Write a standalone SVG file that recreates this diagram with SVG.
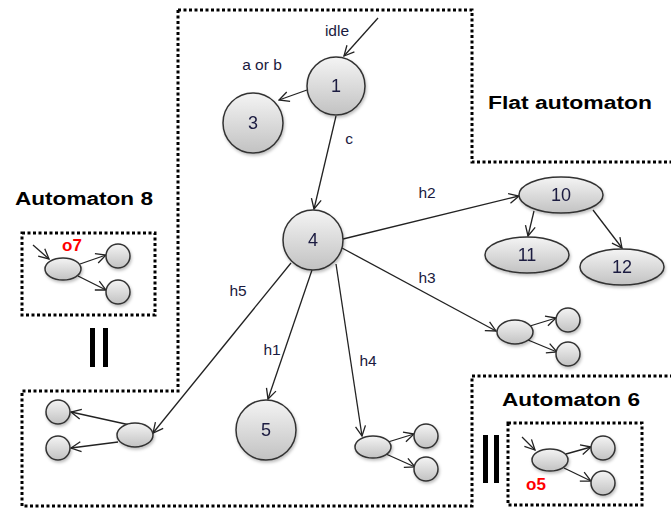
<svg xmlns="http://www.w3.org/2000/svg" width="671" height="512" viewBox="0 0 671 512">
<style>
.node{fill:url(#g);stroke:#333;stroke-width:1.5}
.lbl{font-family:"Liberation Sans",Arial,sans-serif;font-size:15.5px;fill:#1a1a40;text-anchor:middle;dominant-baseline:central}
.nl{font-family:"Liberation Sans",Arial,sans-serif;font-size:18px;fill:#1a1a40;text-anchor:middle;dominant-baseline:central}
.ttl{font-family:"Liberation Sans",Arial,sans-serif;font-size:18px;font-weight:bold;fill:#000;dominant-baseline:central}
.red{font-family:"Liberation Sans",Arial,sans-serif;font-size:17px;font-weight:bold;fill:#f00;text-anchor:middle;dominant-baseline:central}
.dot{fill:none;stroke:#000;stroke-width:3;stroke-dasharray:3 2.5}
.e{fill:none;stroke:#222;stroke-width:1.3;marker-end:url(#a)}
.bar{fill:#000}
</style>
<defs>
<linearGradient id="g" x1="0" y1="0" x2="0" y2="1">
<stop offset="0" stop-color="#f4f4f4"/>
<stop offset="1" stop-color="#c2c2c2"/>
</linearGradient>
<filter id="sh" x="-30%" y="-30%" width="160%" height="160%">
<feDropShadow dx="1" dy="2" stdDeviation="1.5" flood-color="#000" flood-opacity="0.25"/>
</filter>
<marker id="a" viewBox="0 0 12 12" refX="11" refY="6" markerWidth="12" markerHeight="12" markerUnits="userSpaceOnUse" orient="auto">
<path d="M1,1 L11,6 L1,11" fill="none" stroke="#222" stroke-width="1.3"/>
</marker>
</defs>
<rect width="671" height="512" fill="#fff"/>

<g id="boundaries">
<path class="dot" d="M178,10 H472 V162 H671"/>
<path class="dot" d="M178,10 V391 H22 V506 H472 V376 H671"/>
<rect class="dot" x="22" y="233" width="133" height="82"/>
<rect class="dot" x="508" y="423" width="134" height="82"/>
<rect class="bar" x="90" y="328" width="5" height="39"/>
<rect class="bar" x="103" y="328" width="5" height="39"/>
<rect class="bar" x="483" y="435" width="5" height="48"/>
<rect class="bar" x="494" y="435" width="5" height="48"/>
</g>

<g id="titles">
<text class="ttl" x="488" y="103" textLength="164" lengthAdjust="spacingAndGlyphs">Flat automaton</text>
<text class="ttl" x="15" y="199" textLength="138" lengthAdjust="spacingAndGlyphs">Automaton 8</text>
<text class="ttl" x="502" y="400" textLength="138" lengthAdjust="spacingAndGlyphs">Automaton 6</text>
</g>

<g id="connectors">
<line class="e" x1="378" y1="18" x2="344" y2="56"/>
<line class="e" x1="307" y1="90" x2="279" y2="100"/>
<line class="e" x1="336" y1="116" x2="314" y2="209"/>
<line class="e" x1="343" y1="239" x2="519" y2="196"/>
<line class="e" x1="534" y1="211" x2="528" y2="236"/>
<line class="e" x1="593" y1="210" x2="622" y2="248"/>
<line class="e" x1="342" y1="248" x2="496" y2="331"/>
<line class="e" x1="312" y1="270" x2="268" y2="399"/>
<line class="e" x1="336" y1="264" x2="362" y2="436"/>
<line class="e" x1="291" y1="263" x2="153" y2="433"/>
<line class="e" x1="130" y1="425" x2="71" y2="412"/>
<line class="e" x1="118" y1="442" x2="71" y2="448"/>
<line class="e" x1="530" y1="326" x2="556" y2="318"/>
<line class="e" x1="528" y1="340" x2="557" y2="352"/>
<line class="e" x1="388" y1="442" x2="414" y2="434"/>
<line class="e" x1="386" y1="454" x2="415" y2="467"/>
<line class="e" x1="33" y1="245" x2="49" y2="259"/>
<line class="e" x1="80" y1="264" x2="106" y2="255"/>
<line class="e" x1="78" y1="276" x2="106" y2="290"/>
<line class="e" x1="522" y1="437" x2="535" y2="450"/>
<line class="e" x1="566" y1="454" x2="591" y2="447"/>
<line class="e" x1="564" y1="468" x2="591" y2="481"/>
<text class="lbl" x="337" y="30">idle</text>
<text class="lbl" x="262" y="64">a or b</text>
<text class="lbl" x="349" y="138">c</text>
<text class="lbl" x="427" y="192">h2</text>
<text class="lbl" x="427" y="277">h3</text>
<text class="lbl" x="272" y="349">h1</text>
<text class="lbl" x="368" y="360">h4</text>
<text class="lbl" x="238" y="290">h5</text>
</g>

<g id="n1" filter="url(#sh)"><circle class="node" cx="336" cy="86" r="29"/><text class="nl" x="336" y="86">1</text></g>
<g id="n3" filter="url(#sh)"><circle class="node" cx="253" cy="123" r="30"/><text class="nl" x="253" y="123">3</text></g>
<g id="n4" filter="url(#sh)"><circle class="node" cx="313" cy="240" r="30"/><text class="nl" x="313" y="240">4</text></g>
<g id="n5" filter="url(#sh)"><circle class="node" cx="266" cy="430" r="30"/><text class="nl" x="266" y="430">5</text></g>
<g id="n10" filter="url(#sh)"><ellipse class="node" cx="561" cy="195" rx="42" ry="18"/><text class="nl" x="561" y="195">10</text></g>
<g id="n11" filter="url(#sh)"><ellipse class="node" cx="527" cy="255" rx="42" ry="18"/><text class="nl" x="527" y="255">11</text></g>
<g id="n12" filter="url(#sh)"><ellipse class="node" cx="622" cy="267" rx="42" ry="18"/><text class="nl" x="622" y="267">12</text></g>

<g id="h3group" filter="url(#sh)">
<ellipse class="node" cx="515" cy="332" rx="18" ry="12"/>
<circle class="node" cx="568" cy="320" r="12"/>
<circle class="node" cx="568" cy="354" r="12"/>
</g>
<g id="h4group" filter="url(#sh)">
<ellipse class="node" cx="373" cy="447" rx="18" ry="11"/>
<circle class="node" cx="426" cy="436" r="12"/>
<circle class="node" cx="426" cy="469" r="12"/>
</g>
<g id="h5group" filter="url(#sh)">
<ellipse class="node" cx="135" cy="435" rx="18" ry="12"/>
<circle class="node" cx="58" cy="412" r="12"/>
<circle class="node" cx="58" cy="448" r="12"/>
</g>
<g id="automaton8" filter="url(#sh)">
<ellipse class="node" cx="63" cy="269" rx="18" ry="11"/>
<circle class="node" cx="118" cy="256" r="12"/>
<circle class="node" cx="118" cy="292" r="12"/>
</g>
<text class="red" x="72" y="245">o7</text>
<g id="automaton6" filter="url(#sh)">
<ellipse class="node" cx="550" cy="460" rx="18" ry="11"/>
<circle class="node" cx="603" cy="448" r="12"/>
<circle class="node" cx="603" cy="483" r="12"/>
</g>
<text class="red" x="536" y="484">o5</text>
</svg>
